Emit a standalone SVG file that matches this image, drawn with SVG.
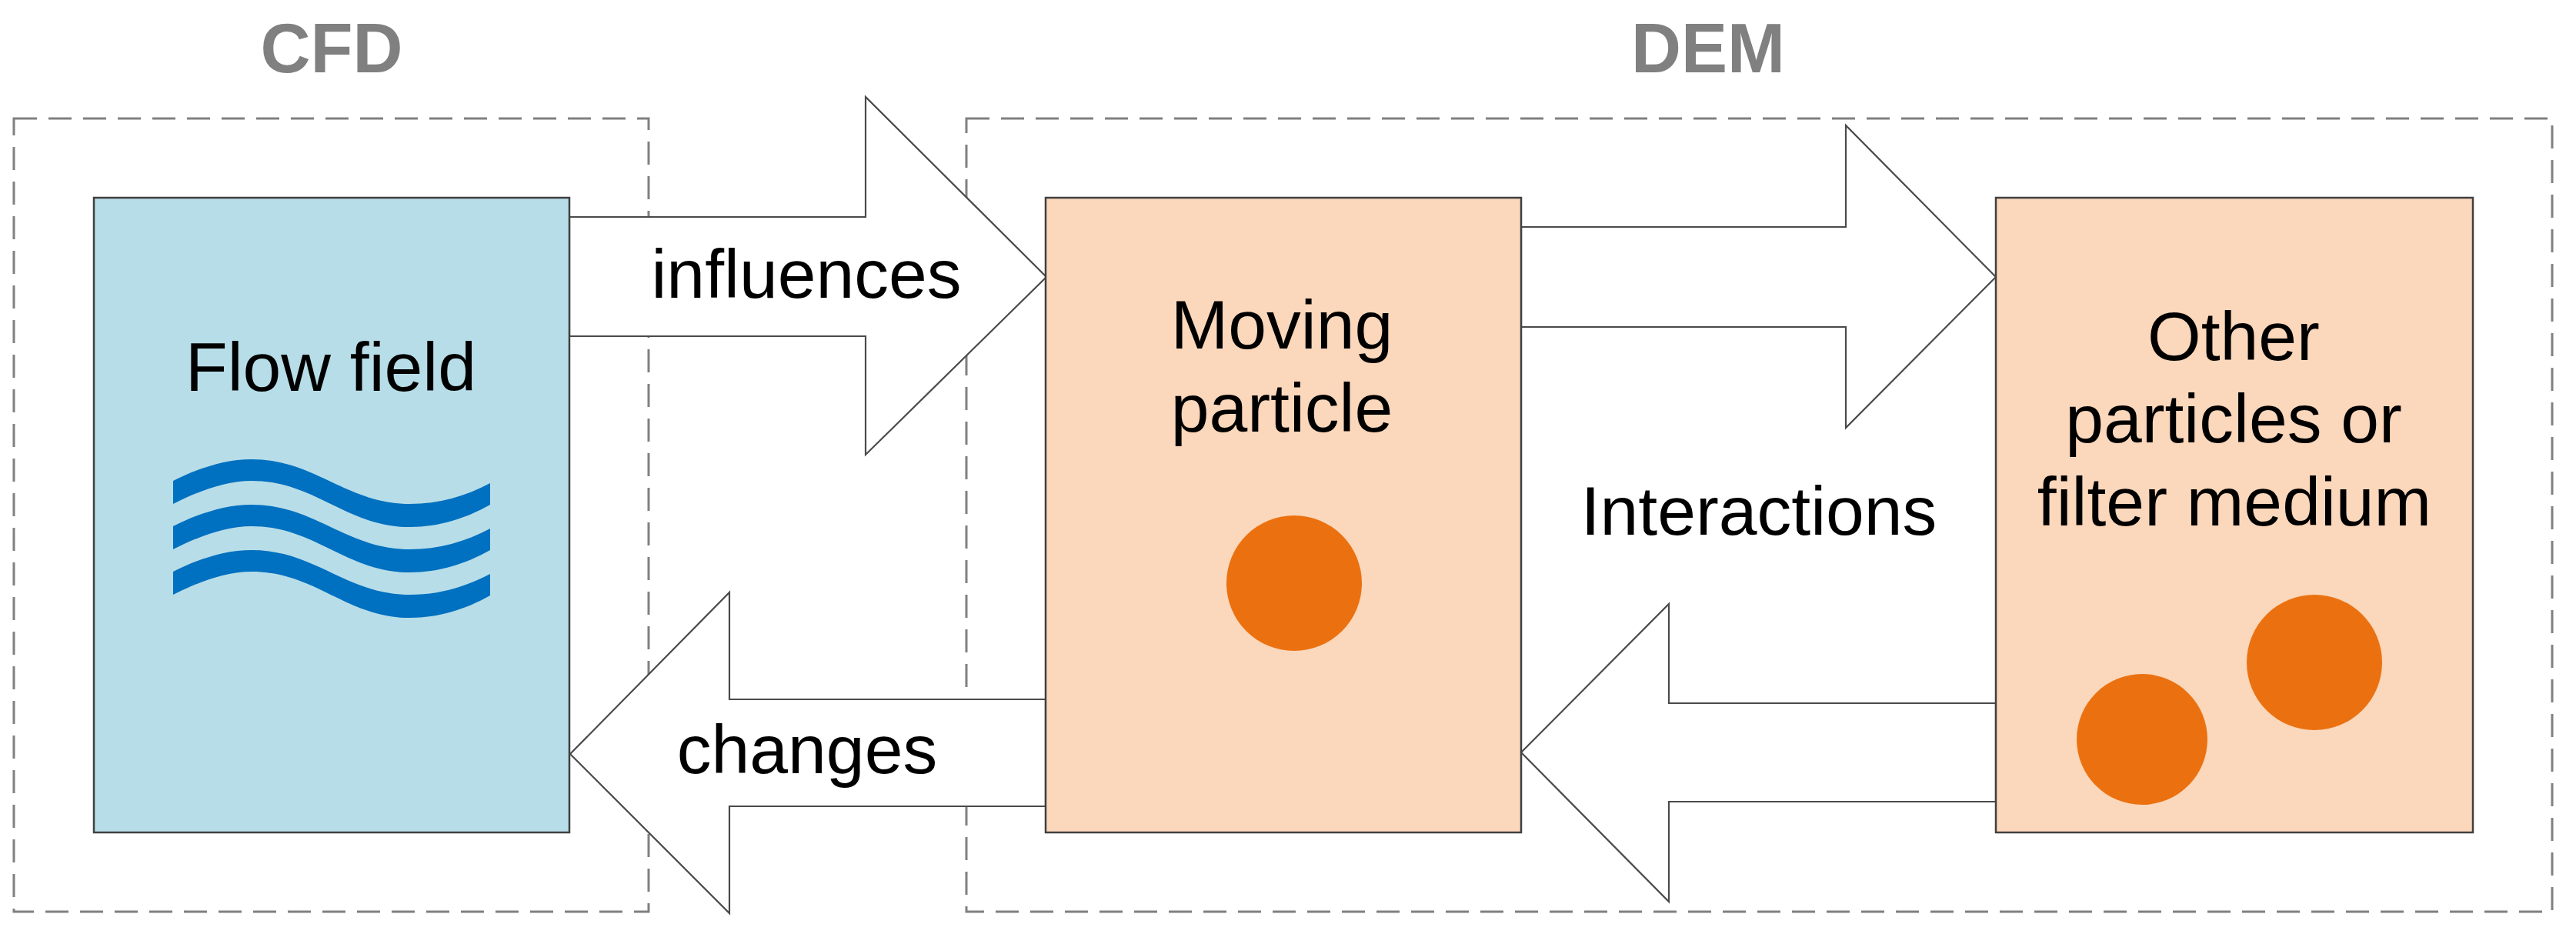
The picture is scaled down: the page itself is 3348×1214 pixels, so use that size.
<svg xmlns="http://www.w3.org/2000/svg" width="3348" height="1214" viewBox="0 0 3348 1214">
<style>
text{font-family:"Liberation Sans",Arial,sans-serif;font-size:89.5px;fill:#000;text-anchor:middle}
.title{font-weight:700;fill:#808080;font-size:90px}
.region{fill:none;stroke:#808080;stroke-width:3;stroke-dasharray:30 15}
.arrow{fill:#fff;stroke:#4a4a4a;stroke-width:2.2;stroke-linejoin:miter}
.box{stroke:#404040;stroke-width:2.5}
.blue{fill:#B7DDE8}
.peach{fill:#FBD7BB}
.dot{fill:#EB7110}
.wave{fill:#0070C0}
</style>
<defs><path id="w" d="M225 625C257 609 292 597 327 597C410 597 450 655 533 655C570 655 605 645 637 628V656C605 674 570 685 533 685C450 685 410 625 327 625C292 625 257 639 225 655Z"/></defs>
<g id="region-cfd"><rect class="region" x="18" y="154" width="825" height="1031"/><text class="title" x="431" y="94">CFD</text></g>
<g id="region-dem"><rect class="region" x="1256" y="154" width="2061" height="1031"/><text class="title" x="2220" y="94">DEM</text></g>
<g id="connectors">
<g id="arrow-influences"><path class="arrow" d="M740 282H1125V126L1360 360L1125 591V437H740Z"/><text x="1048" y="387">influences</text></g>
<g id="arrow-changes"><path class="arrow" d="M1359 909H948V770L741 980L948 1187V1048H1359Z"/><text x="1049" y="1005">changes</text></g>
<g id="arrow-right"><path class="arrow" d="M1977 295H2399V163L2594 360L2399 556V425H1977Z"/></g>
<g id="arrow-left"><path class="arrow" d="M2594 914H2169V785L1977 978L2169 1172V1042H2594Z"/></g>
<text x="2286" y="695">Interactions</text>
</g>
<g id="node-flow"><rect class="box blue" x="122" y="257" width="618" height="825"/><text x="430" y="508">Flow field</text>
<use href="#w" class="wave"/><use href="#w" class="wave" y="59"/><use href="#w" class="wave" y="118"/></g>
<g id="node-moving"><rect class="box peach" x="1359" y="257" width="618" height="825"/><text x="1666" y="453">Moving</text><text x="1666" y="561">particle</text><circle class="dot" cx="1682" cy="758" r="88"/></g>
<g id="node-other"><rect class="box peach" x="2594" y="257" width="620" height="825"/><text x="2903" y="468">Other</text><text x="2903" y="575">particles or</text><text x="2904" y="683">filter medium</text><circle class="dot" cx="3008" cy="861" r="88"/><circle class="dot" cx="2784" cy="961" r="85"/></g>
</svg>
